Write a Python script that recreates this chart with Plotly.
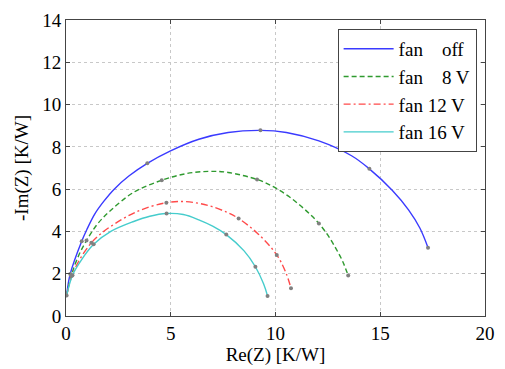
import plotly.graph_objects as go

# Nyquist curves of thermal impedance for four fan settings
labels = ["fan\u00a0\u00a0\u00a0\u00a0off", "fan\u00a0\u00a0\u00a0\u00a08 V", "fan 12 V", "fan 16 V"]
colors = ["#3a3aff", "#2f9a2f", "#ff4a4a", "#45cccc"]
dashes = ["solid", "5px,3px", "7px,3px,2px,3px", "solid"]

# curve samples (Re, -Im)
off_re = [0.03, 0.20, 0.75, 1.00, 1.37, 1.80, 2.30, 3.00, 3.88, 4.99, 6.34, 7.74, 9.28, 10.52, 12.07, 13.63, 14.48, 15.57, 16.35, 16.89, 17.28]
off_im = [0.97, 1.99, 3.54, 4.10, 4.82, 5.42, 6.00, 6.62, 7.22, 7.81, 8.36, 8.68, 8.78, 8.68, 8.28, 7.58, 6.96, 5.95, 5.02, 4.16, 3.23]
v8_re = [0.03, 0.25, 0.60, 0.98, 1.50, 2.14, 3.23, 4.57, 5.72, 6.81, 7.74, 9.12, 9.60, 10.06, 10.60, 11.14, 11.65, 12.07, 12.50, 12.90, 13.20, 13.47]
v8_im = [0.97, 1.90, 2.85, 3.57, 4.35, 5.00, 5.85, 6.42, 6.73, 6.84, 6.79, 6.46, 6.26, 6.02, 5.68, 5.26, 4.81, 4.38, 3.82, 3.16, 2.60, 1.91]
v12_re = [0.03, 0.28, 0.70, 1.21, 1.60, 2.14, 3.39, 4.79, 5.72, 6.81, 7.74, 8.24, 9.12, 10.06, 10.52, 10.74]
v12_im = [0.97, 1.90, 2.75, 3.46, 3.84, 4.24, 4.94, 5.36, 5.41, 5.22, 4.88, 4.61, 3.93, 2.89, 1.99, 1.31]
v16_re = [0.03, 0.31, 0.70, 1.32, 2.14, 3.23, 4.00, 4.80, 5.60, 6.34, 7.00, 7.65, 8.50, 9.04, 9.43, 9.62]
v16_im = [0.97, 1.93, 2.60, 3.39, 4.00, 4.47, 4.72, 4.85, 4.80, 4.55, 4.25, 3.85, 3.08, 2.33, 1.52, 0.95]

# measured points marked along each curve
off_mk_re = [0.03, 0.20, 0.75, 3.88, 9.28, 14.48, 17.28]
off_mk_im = [0.97, 1.99, 3.54, 7.22, 8.78, 6.96, 3.23]
v8_mk_re = [0.25, 0.98, 4.57, 9.12, 12.07, 13.47]
v8_mk_im = [1.90, 3.57, 6.42, 6.46, 4.38, 1.91]
v12_mk_re = [0.28, 1.21, 4.79, 8.24, 10.06, 10.74]
v12_mk_im = [1.90, 3.46, 5.36, 4.61, 2.89, 1.31]
v16_mk_re = [0.31, 1.32, 4.80, 7.65, 9.04, 9.62]
v16_mk_im = [1.93, 3.39, 4.85, 3.85, 2.33, 0.95]

curves = [(off_re, off_im), (v8_re, v8_im), (v12_re, v12_im), (v16_re, v16_im)]
marks = [(off_mk_re, off_mk_im), (v8_mk_re, v8_mk_im), (v12_mk_re, v12_mk_im), (v16_mk_re, v16_mk_im)]

fig = go.Figure()
for (xs, ys), name, c, d in zip(curves, labels, colors, dashes):
    fig.add_trace(go.Scatter(x=xs, y=ys, mode="lines", name=name,
                             line=dict(color=c, width=1.4, dash=d, shape="spline", smoothing=1.0)))
for xs, ys in marks:
    fig.add_trace(go.Scatter(x=xs, y=ys, mode="markers", showlegend=False,
                             marker=dict(color="#808080", size=4)))

serif = "Liberation Serif, Times New Roman, serif"
axis_common = dict(showline=True, linecolor="#444", linewidth=1, mirror="ticks",
                   ticks="inside", ticklen=4, tickcolor="#444",
                   showgrid=True, gridcolor="#c8c8c8", griddash="dot", gridwidth=1,
                   zeroline=False, tickfont=dict(size=19, family=serif, color="black"))
fig.update_xaxes(range=[0, 20], dtick=5,
                 title=dict(text="Re(Z) [K/W]", font=dict(size=19, family=serif, color="black"), standoff=2),
                 **axis_common)
fig.update_yaxes(range=[0, 14], dtick=2,
                 title=dict(text="-Im(Z) [K/W]", font=dict(size=19, family=serif, color="black"), standoff=8),
                 **axis_common)

fig.update_layout(
    width=505, height=369,
    margin=dict(l=66, r=10, t=19, b=50),
    paper_bgcolor="white", plot_bgcolor="white",
    font=dict(size=19, family=serif, color="black"),
    legend=dict(x=0.98, y=0.97, xanchor="right", yanchor="top",
                bgcolor="white", bordercolor="#444", borderwidth=1,
                font=dict(size=19, family=serif, color="black"), itemwidth=50, tracegroupgap=0),
)

fig.write_html("out.html")
